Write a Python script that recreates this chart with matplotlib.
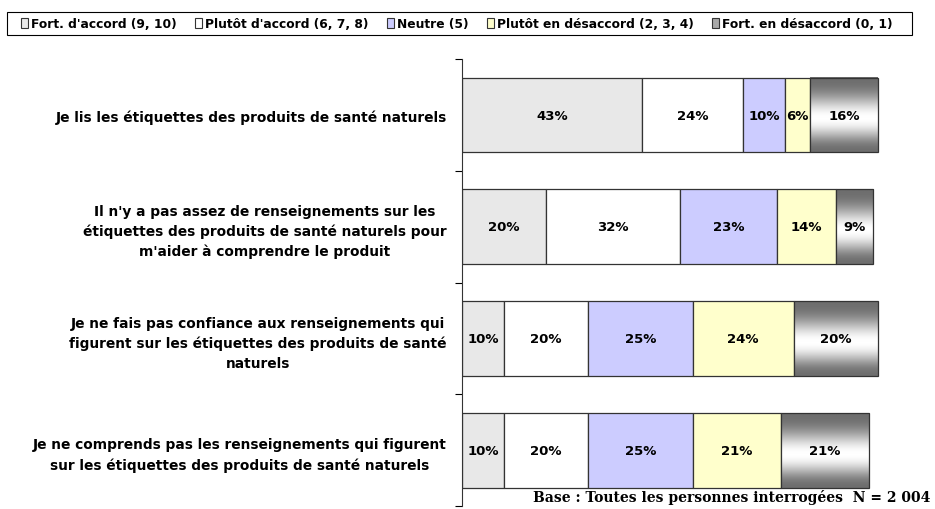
import numpy as np
import matplotlib.pyplot as plt
from matplotlib.patches import Patch, Rectangle
from matplotlib.colors import LinearSegmentedColormap

categories = [
    "Je lis les étiquettes des produits de santé naturels",
    "Il n'y a pas assez de renseignements sur les\nétiquettes des produits de santé naturels pour\nm'aider à comprendre le produit",
    "Je ne fais pas confiance aux renseignements qui\nfigurent sur les étiquettes des produits de santé\nnaturels",
    "Je ne comprends pas les renseignements qui figurent\nsur les étiquettes des produits de santé naturels",
]
series_names = [
    "Fort. d'accord (9, 10)",
    "Plutôt d'accord (6, 7, 8)",
    "Neutre (5)",
    "Plutôt en désaccord (2, 3, 4)",
    "Fort. en désaccord (0, 1)",
]
fort_accord = [43, 20, 10, 10]
plutot_accord = [24, 32, 20, 20]
neutre = [10, 23, 25, 25]
plutot_desaccord = [6, 14, 24, 21]
fort_desaccord = [16, 9, 20, 21]

colors = ["#E8E8E8", "#FFFFFF", "#CCCCFF", "#FFFFCC", None]

plt.rcParams["font.family"] = ["DejaVu Sans"]

fig = plt.figure(figsize=(9.35, 5.1), dpi=100)
ax = fig.add_axes([0.494, 0.006, 0.449, 0.876])

values = [fort_accord, plutot_accord, neutre, plutot_desaccord, fort_desaccord]
y = np.arange(len(categories))
h = 0.67
# metallic grey shading: dark at top and bottom, white band slightly below middle
t = np.linspace(0, 1, 200)
grad = np.sin(np.pi * t ** 1.15) ** 2.2
gray_cmap = LinearSegmentedColormap.from_list("g", ["#6E6E6E", "#FFFFFF"])

left = np.zeros(len(categories))
for i, vals in enumerate(values):
    vals = np.array(vals, dtype=float)
    if colors[i] is not None:
        ax.barh(y, vals, left=left, height=h, color=colors[i],
                edgecolor="#333333", linewidth=0.9, zorder=2)
    else:
        for yy, l, v in zip(y, left, vals):
            ax.imshow(grad.reshape(-1, 1), cmap=gray_cmap, vmin=0, vmax=1,
                      extent=[l, l + v, yy + h / 2, yy - h / 2], origin="upper",
                      aspect="auto", interpolation="bilinear", zorder=2)
        ax.barh(y, vals, left=left, height=h, facecolor="none",
                edgecolor="#333333", linewidth=0.9, zorder=3)
    for yy, l, v in zip(y, left, vals):
        ax.text(l + v / 2, yy, f"{int(v)}%", ha="center", va="center",
                fontsize=9.5, fontweight="bold", color="black", zorder=4)
    left += vals

ax.set_xlim(0, 100)
ax.set_ylim(len(categories) - 0.5, -0.5)
ax.set_yticks(y)
ax.set_yticklabels(categories, fontsize=9.9, fontweight="bold")
for lab in ax.get_yticklabels():
    lab.set_multialignment("center")
    lab.set_linespacing(1.5)
ax.tick_params(axis="y", which="major", length=0, pad=11)
ax.set_yticks(np.arange(len(categories) + 1) - 0.5, minor=True)
ax.tick_params(axis="y", which="minor", length=5, width=0.8, direction="out")
ax.set_xticks([])
for s in ["top", "right", "bottom"]:
    ax.spines[s].set_visible(False)
ax.spines["left"].set_linewidth(0.8)
ax.spines["left"].set_color("#333333")

# legend box drawn separately so its extent matches the original
fig.patches.append(Rectangle((7 / 935, 1 - 36 / 510), 905 / 935, 23 / 510,
                             transform=fig.transFigure, facecolor="white",
                             edgecolor="black", linewidth=0.8, zorder=0))
handles = [Patch(facecolor=c if c else "#A8A8A8", edgecolor="#333333", linewidth=0.8)
           for c in colors]
leg = fig.legend(handles, series_names, loc="center left",
                 bbox_to_anchor=(21 / 935, 1 - 24.5 / 510),
                 ncol=5, frameon=False,
                 handlelength=0.6, handleheight=0.9, handletextpad=0.25,
                 columnspacing=1.47, borderpad=0, borderaxespad=0,
                 prop={"weight": "bold", "size": 8.8})

fig.text(0.995, 0.025, "Base : Toutes les personnes interrogées  N = 2 004",
         ha="right", va="center", fontsize=10, fontweight="bold",
         family="DejaVu Serif")

fig.savefig("out.png", dpi=100)
